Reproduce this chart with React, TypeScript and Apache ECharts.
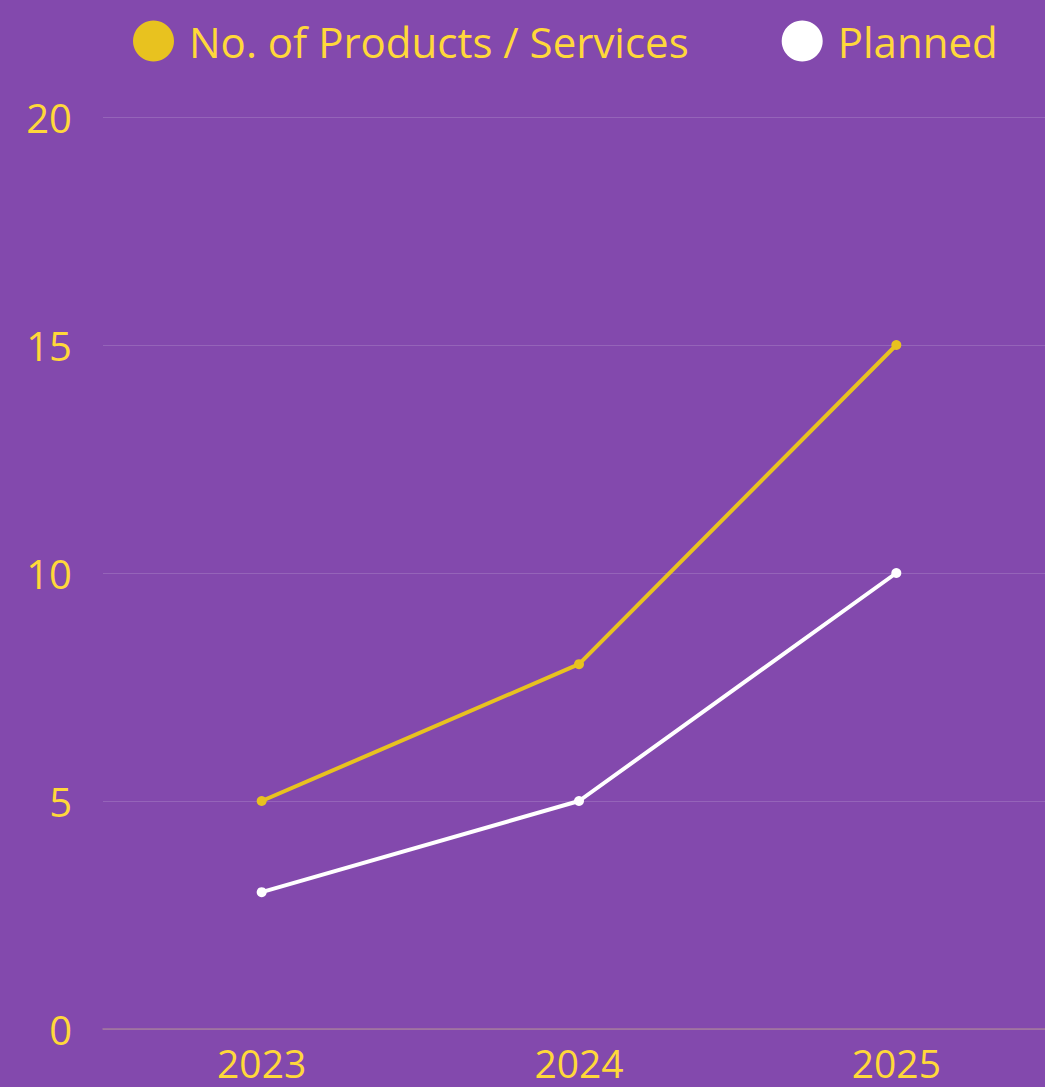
import React, { useEffect, useRef } from "react";
import * as echarts from "echarts";

const categories = ["2023", "2024", "2025"];
const productsServices = [5, 8, 15];
const planned = [3, 5, 10];
const seriesNames = ["No. of Products / Services", "Planned"];

const BG = "#8349AD";
const YELLOW = "#E8C21F";
const TEXT = "#FFD83A";
const FONT = "'Open Sans', 'Noto Sans', sans-serif";

export default function App() {
  const ref = useRef<HTMLDivElement>(null);
  useEffect(() => {
    document.body.style.margin = "0";
    document.body.style.overflow = "hidden";
    const chart = echarts.init(ref.current!, undefined, { renderer: "svg" });
    chart.setOption({
      animation: false,
      backgroundColor: BG,
      textStyle: { fontFamily: FONT },
      legend: {
        top: 15,
        left: 128,
        icon: "circle",
        itemWidth: 41,
        itemHeight: 41,
        itemGap: 93,
        textStyle: { color: TEXT, fontSize: 42, fontFamily: FONT, padding: [0, 0, 0, 10] },
        data: seriesNames,
      },
      grid: { left: 103, right: 0, top: 117, bottom: 58, containLabel: false },
      xAxis: {
        type: "category",
        data: categories,
        boundaryGap: true,
        axisLine: { show: true, lineStyle: { color: "#A47A9C", width: 1.5 } },
        axisTick: { show: false },
        axisLabel: { color: TEXT, fontSize: 39, lineHeight: 36, fontFamily: FONT, margin: 15 },
      },
      yAxis: {
        type: "value",
        min: 0,
        max: 20,
        interval: 5,
        axisLine: { show: false },
        axisTick: { show: false },
        splitLine: { lineStyle: { color: "rgba(255,255,255,0.15)", width: 1 } },
        axisLabel: { color: TEXT, fontSize: 40, fontFamily: FONT, margin: 31 },
      },
      series: [
        {
          name: seriesNames[0],
          type: "line",
          data: productsServices,
          color: YELLOW,
          symbol: "circle",
          symbolSize: 10,
          lineStyle: { color: YELLOW, width: 4 },
          itemStyle: { color: YELLOW },
        },
        {
          name: seriesNames[1],
          type: "line",
          data: planned,
          color: "#FFFFFF",
          symbol: "circle",
          symbolSize: 10,
          lineStyle: { color: "#FFFFFF", width: 4 },
          itemStyle: { color: "#FFFFFF" },
        },
      ],
    });
    return () => chart.dispose();
  }, []);
  return <div ref={ref} style={{ position: "fixed", left: 0, top: 0, width: 1055, height: 1087 }} />;
}
